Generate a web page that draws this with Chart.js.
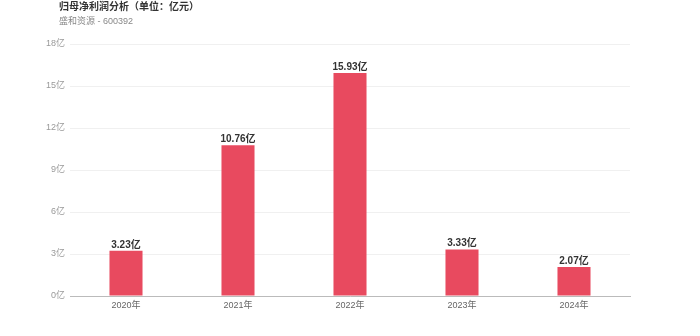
<!DOCTYPE html>
<html>
<head>
<meta charset="utf-8">
<script src="https://cdn.jsdelivr.net/npm/chart.js@4"></script>
<style>
  html, body { margin: 0; padding: 0; background: #fff; }
  #wrap { width: 700px; height: 336px; position: relative; }
</style>
</head>
<body>
<div id="wrap"><canvas id="myChartLucro"></canvas></div>
<script>
const categorias = ['2020年', '2021年', '2022年', '2023年', '2024年'];
const valores = [3.23, 10.76, 15.93, 3.33, 2.07];
const ticksY = [0, 3, 6, 9, 12, 15, 18];

const titulo = '归母净利润分析（单位：亿元）';
const subtitulo = '盛和资源 - 600392';
const fonte = '"Liberation Sans", Arial, "Noto Sans CJK SC", sans-serif';

const tituloPlugin = {
    id: 'tituloPlugin',
    afterDraw(chart) {
        const ctx = chart.ctx;
        ctx.save();
        ctx.textAlign = 'left';
        ctx.textBaseline = 'middle';
        ctx.fillStyle = '#333';
        ctx.font = 'bold 10px ' + fonte;
        ctx.fillText(titulo, 59, 7);
        ctx.fillStyle = '#888';
        ctx.font = '9px ' + fonte;
        ctx.fillText(subtitulo, 59, 22);
        ctx.restore();
    }
};

const rotulosPlugin = {
    id: 'rotulosPlugin',
    afterDatasetsDraw(chart) {
        const ctx = chart.ctx;
        const meta = chart.getDatasetMeta(0);
        ctx.save();
        ctx.textAlign = 'center';
        ctx.textBaseline = 'bottom';
        ctx.fillStyle = '#333';
        ctx.font = 'bold 10px ' + fonte;
        meta.data.forEach((bar, i) => {
            ctx.fillText(valores[i].toFixed(2) + '亿', bar.x, bar.y - 1);
        });
        ctx.restore();
    }
};

const ctxLucro = document.getElementById('myChartLucro');

new Chart(ctxLucro, {
    type: 'bar',
    data: {
        labels: categorias,
        datasets: [{
            label: '归母净利润',
            data: valores,
            backgroundColor: '#e84a5f',
            borderWidth: 0,
            categoryPercentage: 1,
            barPercentage: 0.295
        }]
    },
    options: {
        responsive: true,
        maintainAspectRatio: false,
        animation: false,
        layout: {
            padding: { top: 44, right: 70, bottom: 20, left: 0 }
        },
        scales: {
            y: {
                min: 0,
                max: 18,
                afterFit(scale) { scale.width = 70; },
                afterBuildTicks(scale) {
                    scale.ticks = ticksY.map(v => ({ value: v }));
                },
                ticks: {
                    color: '#999',
                    padding: 5,
                    font: { size: 9, family: fonte },
                    callback: v => v + '亿'
                },
                border: { display: false },
                grid: {
                    color: '#f0f0f0',
                    drawTicks: false
                }
            },
            x: {
                afterFit(scale) { scale.height = 20; },
                ticks: {
                    color: '#666',
                    padding: 4,
                    font: { size: 9, family: fonte }
                },
                border: { color: '#bbb', width: 1 },
                grid: { display: false, drawTicks: false }
            }
        },
        plugins: {
            legend: { display: false },
            tooltip: { enabled: false }
        }
    },
    plugins: [tituloPlugin, rotulosPlugin]
});
</script>
</body>
</html>
